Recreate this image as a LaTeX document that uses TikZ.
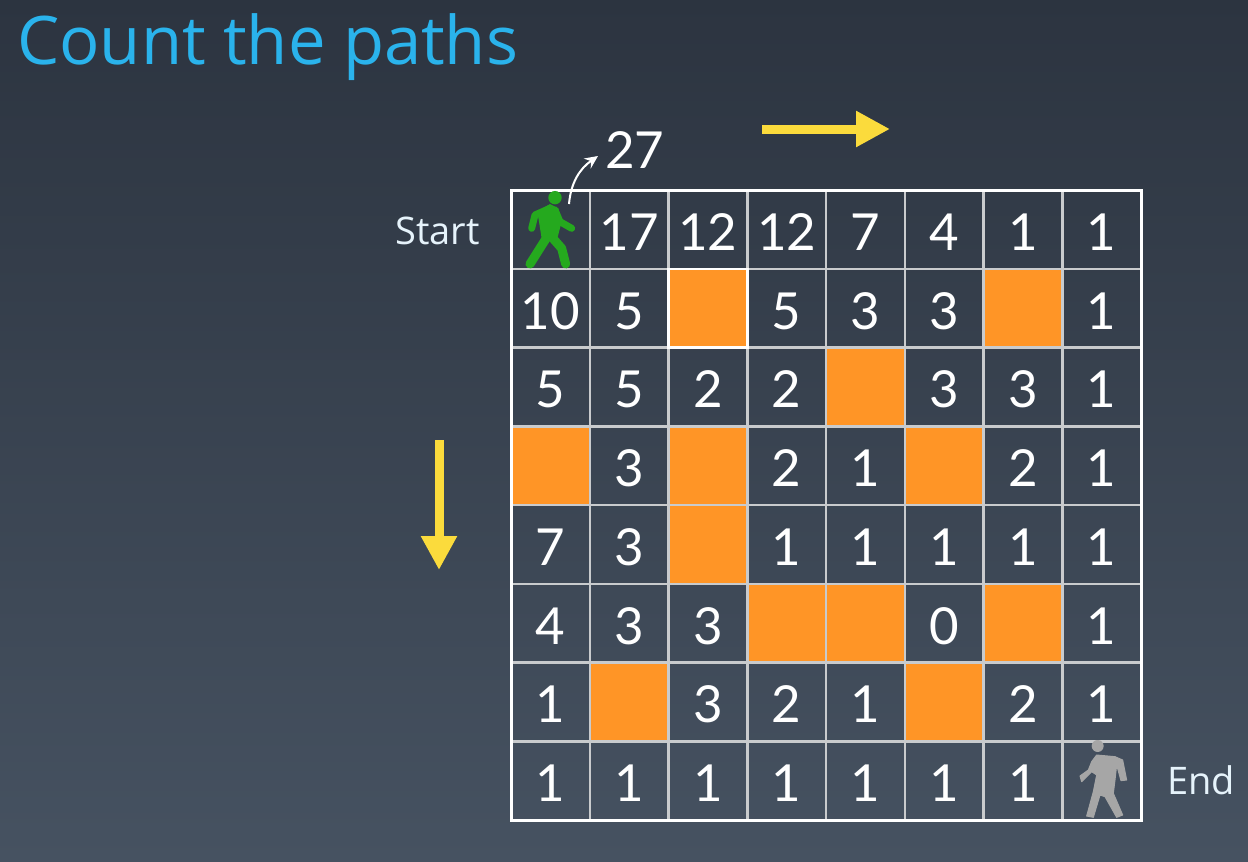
\documentclass[tikz,border=0pt]{standalone}
\usepackage{fontspec}
\setmainfont{Open Sans}
\newfontfamily\digitfont{Lato}
\usetikzlibrary{calc}
\usetikzlibrary{arrows.meta}
\definecolor{bgtop}{HTML}{2C3440}
\definecolor{bgbot}{HTML}{465261}
\definecolor{blockcol}{HTML}{FF9526}
\definecolor{gridcol}{HTML}{C9CBCD}
\definecolor{titlecol}{HTML}{2AB3EC}
\definecolor{dircol}{HTML}{FBDB3C}
\definecolor{startcol}{HTML}{25A91E}
\definecolor{endcol}{HTML}{A6A6A6}
\definecolor{labcol}{HTML}{E6F3FB}
\tikzset{
  cellbox/.style={draw=gridcol, line width=2.5pt, outer sep=0pt, minimum size=78.75pt, inner sep=0pt, text=white, text height=42pt, text depth=0pt, font=\digitfont\fontsize{51}{51}\selectfont},
  holebox/.style={draw=none, fill=blockcol, outer sep=0pt, minimum size=78.75pt, inner sep=0pt},
  lablbox/.style={text=labcol, inner sep=0pt, font=\fontsize{38}{38}\selectfont},
  dirarrow/.style={draw=dircol, line width=9pt, -{Triangle[length=34pt,width=34pt]}},
}
\newcommand{\hole}[2]{\node[holebox] (h#1#2) at ({550.375+78.75*#1},{229.375+78.75*#2}) {};}
\newcommand{\cell}[3]{\node[cellbox] (c#1#2) at ({550.375+78.75*#1},{229.375+78.75*#2}) {#3};}
\newcommand{\gridrow}[9]{\cell{0}{#1}{#2} \cell{1}{#1}{#3} \cell{2}{#1}{#4} \cell{3}{#1}{#5} \cell{4}{#1}{#6} \cell{5}{#1}{#7} \cell{6}{#1}{#8} \cell{7}{#1}{#9}}
\begin{document}
\begin{tikzpicture}[x=1pt,y=-1pt]
    \useasboundingbox (0,0) rectangle (1248,862);
    \shade[top color=bgtop, bottom color=bgbot] (0,0) rectangle (1248,862);
    \node[anchor=base west, inner sep=0pt, text=titlecol, font=\fontsize{67}{67}\selectfont] (title) at (17,64) {Count the paths};
    % blocked cells
    \hole{2}{1} \hole{6}{1} \hole{4}{2} \hole{0}{3} \hole{2}{3} \hole{5}{3} \hole{2}{4}
    \hole{3}{5} \hole{4}{5} \hole{6}{5} \hole{1}{6} \hole{5}{6}
    % the grid
    \gridrow{0}{}{17}{12}{12}{7}{4}{1}{1}
    \gridrow{1}{10}{5}{}{5}{3}{3}{}{1}
    \gridrow{2}{5}{5}{2}{2}{}{3}{3}{1}
    \gridrow{3}{}{3}{}{2}{1}{}{2}{1}
    \gridrow{4}{7}{3}{}{1}{1}{1}{1}{1}
    \gridrow{5}{4}{3}{3}{}{}{0}{}{1}
    \gridrow{6}{1}{}{3}{2}{1}{}{2}{1}
    \gridrow{7}{1}{1}{1}{1}{1}{1}{1}{}
    \draw[white, line width=2.5pt] (h21.north west) rectangle (h21.south east);
    \draw[white, line width=3pt] (c00.north west) rectangle (c77.south east);
    % labels
    \node[lablbox, anchor=base east] (start) at (480,244) {Start};
    \node[lablbox, anchor=base west] (end) at (1167,794) {End};
    \node[anchor=base west, inner sep=0pt, text=white, font=\digitfont\fontsize{51}{51}\selectfont] (total) at (605,168) {27};
    % green walker
    \begin{scope}[shift={(500,120)}, x=0.3333pt, y=-0.3333pt]
        \fill[startcol] (165,233) circle (6.7pt);
        \draw[startcol, line width=7pt, line cap=round, line join=round] (95,325) -- (105,285) -- (150,265);
        \draw[startcol, line width=7pt, line cap=round, line join=round] (165,270) -- (180,305) -- (215,325);
        \fill[startcol] (112,275) -- (150,252) -- (175,265) -- (185,305) -- (172,355) -- (125,355) -- cycle;
        \draw[startcol, line width=9pt, line cap=round, line join=round] (145,345) -- (90,432);
        \draw[startcol, line width=9pt, line cap=round, line join=round] (150,345) -- (185,385) -- (197,432);
    \end{scope}
    % grey walker
    \begin{scope}[shift={(1050,730)}, x=0.3333pt, y=-0.3333pt]
        \fill[endcol] (143,48) circle (6pt);
        \filldraw[endcol, line width=1pt, line join=round] (140,75) -- (195,80) -- (218,90) -- (230,150) -- (213,152) -- (200,105) -- (195,150) -- (190,190) -- (218,255) -- (200,262) -- (165,200) -- (150,195) -- (130,262) -- (110,258) -- (130,185) -- (140,135) -- (125,125) -- (95,155) -- (90,138) -- (115,120) -- (125,95) -- cycle;
    \end{scope}
    % arrows
    \coordinate (walktop) at (569,204);
    \coordinate (totaltip) at (598,156);
    \draw[white, line width=2pt, -{Stealth[length=13pt,width=12pt]}] (walktop) to[out=85,in=215] (totaltip);
    \coordinate (rightfrom) at (762,129);
    \coordinate (rightto) at (890,129);
    \draw[dirarrow] (rightfrom) -- (rightto);
    \coordinate (downfrom) at (439,440);
    \coordinate (downto) at (439,570);
    \draw[dirarrow] (downfrom) -- (downto);
\end{tikzpicture}
\end{document}
